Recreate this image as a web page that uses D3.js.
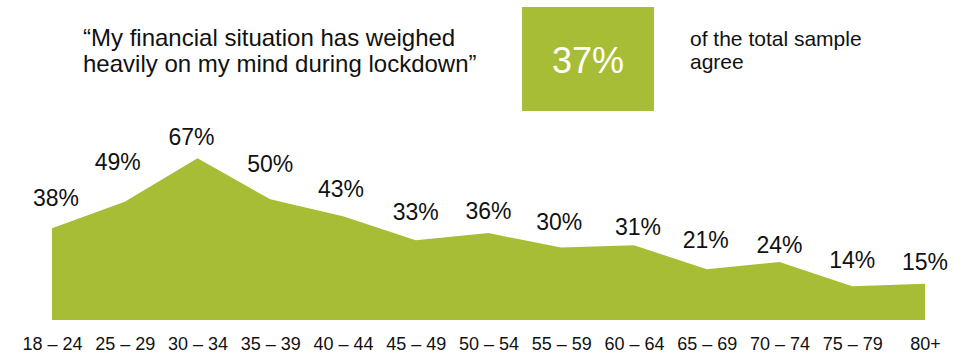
<!DOCTYPE html>
<html>
<head>
<meta charset="utf-8">
<script src="https://cdn.jsdelivr.net/npm/d3@7"></script>
<style>
  html, body { margin: 0; padding: 0; background: #ffffff; }
  svg { display: block; font-family: "Liberation Sans", Arial, sans-serif; }
</style>
</head>
<body>
<svg id="chart" width="961" height="354"></svg>
<script>
// ---- data ----
const categories = ["18 – 24", "25 – 29", "30 – 34", "35 – 39", "40 – 44", "45 – 49", "50 – 54",
                    "55 – 59", "60 – 64", "65 – 69", "70 – 74", "75 – 79", "80+"];
const values = [38, 49, 67, 50, 43, 33, 36, 30, 31, 21, 24, 14, 15];
const totalValue = 37;
const titleLines = ["“My financial situation has weighed", "heavily on my mind during lockdown”"];
const noteLines = ["of the total sample", "agree"];

// ---- layout (not data) ----
const labelDx = [4, -7, -6, 0, -2, 0, 0, -2, 4, -1, 0, 0, 0];
const labelDy = [22, 32, 13, 27, 19, 20, 14, 18, 10, 21, 9, 18, 14];
const green = "#A7BD36";

const svg = d3.select("#chart");

const x = d3.scalePoint().domain(categories).range([52, 925]);
const y = d3.scaleLinear().domain([0, 100]).range([320, 78.6]);

const data = categories.map((c, i) => ({ c, v: values[i], i }));

const area = d3.area()
  .x(d => x(d.c))
  .y0(y(0))
  .y1(d => y(d.v));

svg.append("path")
  .datum(data)
  .attr("d", area)
  .attr("fill", green);

// value labels
svg.append("g").selectAll("text")
  .data(data)
  .join("text")
  .attr("x", d => x(d.c) + labelDx[d.i])
  .attr("y", d => y(d.v) - labelDy[d.i])
  .attr("text-anchor", "middle")
  .attr("font-size", 23)
  .attr("fill", "#111")
  .text(d => d.v + "%");

// category axis
const axis = d3.axisBottom(x).tickSize(0).tickPadding(0);
const gx = svg.append("g").attr("transform", "translate(0,337)").call(axis);
gx.select(".domain").remove();
gx.selectAll("text")
  .attr("font-size", 18)
  .attr("font-family", "Liberation Sans, Arial, sans-serif")
  .attr("fill", "#111")
  .attr("dy", "0.71em");

// title
const title = svg.append("text")
  .attr("x", 83)
  .attr("y", 46)
  .attr("font-size", 24)
  .attr("fill", "#111");
title.selectAll("tspan")
  .data(titleLines)
  .join("tspan")
  .attr("x", 83)
  .attr("dy", (d, i) => i === 0 ? 0 : 25.5)
  .text(d => d);

// total box
svg.append("rect")
  .attr("x", 522).attr("y", 7)
  .attr("width", 132).attr("height", 104)
  .attr("fill", green);
svg.append("text")
  .attr("x", 588).attr("y", 73)
  .attr("text-anchor", "middle")
  .attr("font-size", 36)
  .attr("fill", "#ffffff")
  .text(totalValue + "%");

// note
const note = svg.append("text")
  .attr("x", 690)
  .attr("y", 46)
  .attr("font-size", 21)
  .attr("fill", "#111");
note.selectAll("tspan")
  .data(noteLines)
  .join("tspan")
  .attr("x", 690)
  .attr("dy", (d, i) => i === 0 ? 0 : 22.5)
  .text(d => d);
</script>
</body>
</html>
